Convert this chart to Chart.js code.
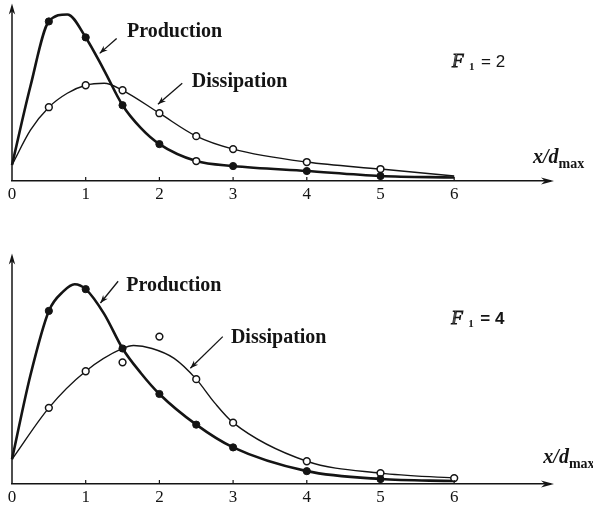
<!DOCTYPE html>
<html>
<head>
<meta charset="utf-8">
<script src="https://cdn.jsdelivr.net/npm/chart.js@4.4.0/dist/chart.umd.min.js"></script>
<style>
  body { margin: 0; background: #fff; width: 593px; height: 511px; overflow: hidden; position: relative; }
  canvas { position: absolute; left: 0; }
  #topChart { top: 0; }
  #bottomChart { top: 250px; }
</style>
</head>
<body>
<canvas id="topChart" width="593" height="250"></canvas>
<canvas id="bottomChart" width="593" height="261"></canvas>
<script>
// tick labels on the x axis (both panels)
const xTicks = [0, 1, 2, 3, 4, 5, 6];
const xTickLabels = ['0', '1', '2', '3', '4', '5', '6'];

// F1 = 2 panel - traced curves
const topProdX = [0, 0.25, 0.5, 0.75, 1, 1.25, 1.5, 1.75, 2, 2.5, 3, 4, 5, 6];
const topProdY = [1.6, 9.5, 16.0, 16.7, 14.4, 11.1, 7.6, 5.3, 3.7, 2.0, 1.5, 1.0, 0.5, 0.35];
const topDissX = [0, 0.25, 0.5, 0.75, 1, 1.25, 1.5, 2, 2.5, 3, 4, 5, 6];
const topDissY = [1.6, 5.1, 7.4, 8.8, 9.6, 9.8, 9.1, 6.8, 4.5, 3.2, 1.9, 1.2, 0.5];
// F1 = 2 panel - plotted symbols
const topFilledX = [0.5, 1, 1.5, 2, 3, 4, 5];
const topFilledY = [16.0, 14.4, 7.6, 3.7, 1.5, 1.0, 0.5];
const topOpenX = [0.5, 1, 1.5, 2, 2.5, 3, 4, 5, 2.5];
const topOpenY = [7.4, 9.6, 9.1, 6.8, 4.5, 3.2, 1.9, 1.2, 2.0];

// F1 = 4 panel - traced curves
const botProdX = [0, 0.25, 0.5, 0.7, 0.85, 1, 1.25, 1.5, 1.75, 2, 2.5, 3, 4, 5, 6];
const botProdY = [2.5, 11.0, 17.5, 19.5, 20.2, 19.7, 17.2, 13.7, 11.2, 9.1, 6.0, 3.7, 1.3, 0.5, 0.3];
const botDissX = [0, 0.5, 1, 1.5, 1.65, 1.9, 2.2, 2.5, 2.75, 3, 4, 5, 6];
const botDissY = [2.5, 7.7, 11.4, 13.7, 14.0, 13.7, 12.7, 10.6, 8.2, 6.2, 2.3, 1.1, 0.6];
// F1 = 4 panel - plotted symbols
const botFilledX = [0.5, 1, 1.5, 2, 2.5, 3, 4, 5];
const botFilledY = [17.5, 19.7, 13.7, 9.1, 6.0, 3.7, 1.3, 0.5];
const botOpenX = [0.5, 1, 1.5, 2, 2.5, 3, 4, 5, 6];
const botOpenY = [7.7, 11.4, 12.3, 14.9, 10.6, 6.2, 2.3, 1.1, 0.6];

const INK = '#141414';
const SERIF = '"Liberation Serif", "DejaVu Serif", serif';
const SANS = '"Liberation Sans", "DejaVu Sans", sans-serif';

function pts(xs, ys) {
    return xs.map((x, i) => ({ x: x, y: ys[i] }));
}

function arrowHead(ctx, x1, y1, x2, y2, len, half) {
    const a = Math.atan2(y2 - y1, x2 - x1);
    const c = Math.cos(a), s = Math.sin(a);
    ctx.beginPath();
    ctx.moveTo(x2, y2);
    ctx.lineTo(x2 - len * c + half * s, y2 - len * s - half * c);
    ctx.lineTo(x2 - len * 0.7 * c, y2 - len * 0.7 * s);
    ctx.lineTo(x2 - len * c - half * s, y2 - len * s + half * c);
    ctx.closePath();
    ctx.fill();
}

// axes arrows, small tick marks and the text labels
const decorations = {
    id: 'decorations',
    afterDraw(chart, args, opts) {
        const ctx = chart.ctx;
        const xs = chart.scales.x, ys = chart.scales.y;
        const area = chart.chartArea;
        const px = v => xs.getPixelForValue(v);
        const py = v => ys.getPixelForValue(v);
        ctx.save();
        ctx.strokeStyle = INK;
        ctx.fillStyle = INK;

        // y axis with arrow
        ctx.lineWidth = 1.5;
        ctx.beginPath();
        ctx.moveTo(area.left, area.bottom);
        ctx.lineTo(area.left, area.top + 4);
        ctx.stroke();
        arrowHead(ctx, area.left, area.bottom, area.left, area.top - 2, 11, 3.2);
        // x axis arrow
        arrowHead(ctx, area.left, area.bottom, area.right + 4, area.bottom, 13, 3.5);

        // small upward ticks
        ctx.lineWidth = 1.2;
        xTicks.slice(1).forEach(v => {
            ctx.beginPath();
            ctx.moveTo(px(v), area.bottom);
            ctx.lineTo(px(v), area.bottom - 4);
            ctx.stroke();
        });

        // pointer arrows
        ctx.lineWidth = 1.3;
        opts.arrows.forEach(a => {
            ctx.beginPath();
            ctx.moveTo(px(a[0]), py(a[1]));
            ctx.lineTo(px(a[2]), py(a[3]));
            ctx.stroke();
            arrowHead(ctx, px(a[0]), py(a[1]), px(a[2]), py(a[3]), 8, 3);
        });

        // curve names
        ctx.textBaseline = 'alphabetic';
        ctx.textAlign = 'left';
        ctx.font = 'bold 20px ' + SERIF;
        opts.names.forEach(n => ctx.fillText(n.text, px(n.x), py(n.y)));

        // F1 = n
        let x = px(opts.param.x), y = py(opts.param.y);
        ctx.font = 'italic 19px ' + SERIF;
        ctx.lineWidth = 0.9;
        ctx.strokeText('F', x, y);
        ctx.beginPath();
        ctx.moveTo(x + 4.5, y - 12.5);
        ctx.lineTo(x + 2.2, y);
        ctx.stroke();
        x += 17;
        ctx.font = 'bold 11px ' + SERIF;
        ctx.fillText('1', x, y + 3);
        x += 12;
        ctx.font = opts.param.weight + ' 17px ' + SANS;
        ctx.fillText('= ' + opts.param.value, x, y);

        // axis name x/d_max
        x = px(opts.axisName.x);
        y = py(opts.axisName.y);
        ctx.font = 'italic bold 20px ' + SERIF;
        ctx.fillText('x/d', x, y);
        x += ctx.measureText('x/d').width;
        ctx.font = 'bold 14px ' + SERIF;
        ctx.fillText('max', x, y + 5);
        ctx.restore();
    }
};

function makePanel(canvasId, panel) {
    const canvasHeight = document.getElementById(canvasId).height;
    return new Chart(document.getElementById(canvasId), {
        type: 'scatter',
        data: {
            datasets: [
                {
                    data: pts(panel.filledX, panel.filledY),
                    pointRadius: 3.6, pointBackgroundColor: INK, pointBorderColor: INK,
                    pointBorderWidth: 1, showLine: false, clip: false
                },
                {
                    data: pts(panel.openX, panel.openY),
                    pointRadius: 3.4, pointBackgroundColor: '#fff', pointBorderColor: INK,
                    pointBorderWidth: 1.5, showLine: false, clip: false
                },
                {
                    data: pts(panel.prodX, panel.prodY),
                    showLine: true, borderColor: INK, borderWidth: 2.6, pointRadius: 0,
                    cubicInterpolationMode: 'monotone', clip: false
                },
                {
                    data: pts(panel.dissX, panel.dissY),
                    showLine: true, borderColor: INK, borderWidth: 1.4, pointRadius: 0,
                    cubicInterpolationMode: 'monotone', clip: false
                }
            ]
        },
        options: {
            responsive: false,
            animation: false,
            events: [],
            layout: { padding: { left: 12, right: 43, top: panel.padTop, bottom: 0 } },
            plugins: {
                legend: { display: false },
                tooltip: { enabled: false },
                decorations: panel.decor
            },
            scales: {
                x: {
                    type: 'linear', min: 0, max: 7.3,
                    grid: { display: false },
                    border: { display: true, color: INK, width: 1.5 },
                    afterBuildTicks: s => { s.ticks = xTicks.map(v => ({ value: v })); },
                    afterFit: s => { s.height = canvasHeight - panel.axisY; },
                    ticks: {
                        color: INK, padding: -5, maxRotation: 0, autoSkip: false,
                        font: { family: SERIF, size: 17 },
                        callback: v => xTickLabels[xTicks.indexOf(v)]
                    }
                },
                y: { display: false, min: 0, max: panel.yMax }
            }
        },
        plugins: [decorations]
    });
}

makePanel('topChart', {
    prodX: topProdX, prodY: topProdY, dissX: topDissX, dissY: topDissY,
    filledX: topFilledX, filledY: topFilledY, openX: topOpenX, openY: topOpenY,
    padTop: 5, axisY: 181, yMax: 17.6,
    decor: {
        names: [{ text: 'Production', x: 1.56, y: 14.4 }, { text: 'Dissipation', x: 2.44, y: 9.4 }],
        arrows: [[1.42, 14.3, 1.19, 12.8], [2.31, 9.8, 1.98, 7.7]],
        param: { x: 5.97, y: 11.4, value: '2', weight: 'normal' },
        axisName: { x: 7.07, y: 1.8 }
    }
});

makePanel('bottomChart', {
    prodX: botProdX, prodY: botProdY, dissX: botDissX, dissY: botDissY,
    filledX: botFilledX, filledY: botFilledY, openX: botOpenX, openY: botOpenY,
    padTop: 3, axisY: 234, yMax: 23.1,
    decor: {
        names: [{ text: 'Production', x: 1.55, y: 19.5 }, { text: 'Dissipation', x: 2.97, y: 14.3 }],
        arrows: [[1.44, 20.5, 1.20, 18.3], [2.86, 14.9, 2.42, 11.7]],
        param: { x: 5.96, y: 16.2, value: '4', weight: 'bold' },
        axisName: { x: 7.21, y: 2.1 }
    }
});
</script>
</body>
</html>
